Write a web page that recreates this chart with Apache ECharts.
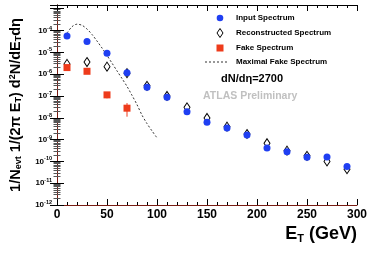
<!DOCTYPE html>
<html>
<head>
<meta charset="utf-8">
<script src="https://cdn.jsdelivr.net/npm/echarts@6/dist/echarts.min.js"></script>
<style>html,body{margin:0;padding:0;background:#fff}#c{width:374px;height:253px}</style>
</head>
<body>
<div id="c"></div>
<script>
// ---- data ----
const energies = [10, 30, 50, 70, 90, 110, 130, 150, 170, 190, 210, 230, 250, 270, 290];
const inputSpectrum = [5.6e-5, 3.1e-5, 9.1e-6, 1.17e-6, 2.5e-7, 8.7e-8, 1.9e-8, 6.2e-9, 3.4e-9, 1.6e-9, 4.1e-10, 2.8e-10, 1.55e-10, 1.58e-10, 5.8e-11];
const recoSpectrum = [2.95e-6, 3.6e-6, 2.2e-6, 1.1e-6, 2.9e-7, 1.0e-7, 3.0e-8, 9.8e-9, 3.9e-9, 1.8e-9, 6.8e-10, 3.1e-10, 1.8e-10, 1.0e-10, 4.4e-11];
const fakeEnergies = [10, 30, 50, 70];
const fakeSpectrum = [2.0e-6, 1.35e-6, 1.12e-7, 2.75e-8];
const fakeErrLow = [1.9e-6, 1.28e-6, 7.8e-8, 1.12e-8];
const fakeErrHigh = [2.1e-6, 1.42e-6, 1.4e-7, 4.7e-8];
const maxFakeEnergies = [10, 15, 20, 25, 30, 35, 40, 45, 50, 55, 60, 65, 70, 75, 80, 85, 90, 95, 100];
const maxFakeSpectrum = [7.6e-5, 1.5e-4, 1.95e-4, 1.74e-4, 1.17e-4, 6.6e-5, 3.3e-5, 1.58e-5, 7.2e-6, 3.2e-6, 1.41e-6, 6.3e-7, 2.75e-7, 1.07e-7, 4.0e-8, 1.32e-8, 5.4e-9, 2.5e-9, 1.2e-9];
const xTicks = [0, 50, 100, 150, 200, 250, 300];
const yMin = 1e-12, yMax = 1.48e-3;
const names = ['Input Spectrum', 'Reconstructed Spectrum', 'Fake Spectrum', 'Maximal Fake Spectrum'];

const FONT = '"Liberation Sans", Arial, Helvetica, sans-serif';
const BLUE = '#1f3ff2', RED = '#ee3b1b', FRAME_RED = '#7a1c12';

const zip = (xs, ys) => xs.map((x, i) => [x, ys[i]]);

const chart = echarts.init(document.getElementById('c'), null, {renderer: 'canvas'});

function yLabel(v) {
  const l = Math.log10(v);
  const e = Math.round(l);
  if (Math.abs(l - e) > 0.01 || e > -4) return '';
  return '{b|10}{s|' + e + '}';
}

const xCommon = {
  type: 'value', min: xTicks[0], max: xTicks[xTicks.length - 1], interval: 50,
  splitLine: {show: false},
  axisTick: {inside: true, length: 6, lineStyle: {color: '#000'}},
  minorTick: {show: true, splitNumber: 5, length: 3, lineStyle: {color: '#000'}}
};
const yCommon = {
  type: 'log', logBase: 10, min: yMin, max: yMax, splitNumber: 9,
  splitLine: {show: false},
  axisTick: {inside: true, length: 7, lineStyle: {color: '#000'}},
  minorTick: {show: true, splitNumber: 9, length: 3.5, lineStyle: {color: '#555'}}
};

// legend drawn as decoration
const LX = 220, LT = 236, LFONT = 'bold 8px ' + FONT;
const legendRows = [18, 33, 48, 62];
const legendGraphics = [
  {type: 'circle', shape: {cx: LX, cy: legendRows[0], r: 3.3}, style: {fill: BLUE}},
  {type: 'polygon', shape: {points: [[LX, legendRows[1] - 4.5], [LX + 3, legendRows[1]], [LX, legendRows[1] + 4.5], [LX - 3, legendRows[1]]]}, style: {fill: '#fff', stroke: '#000', lineWidth: 1}},
  {type: 'rect', shape: {x: LX - 3.5, y: legendRows[2] - 3.5, width: 7, height: 7}, style: {fill: RED}},
  {type: 'line', shape: {x1: 205, y1: legendRows[3], x2: 228, y2: legendRows[3]}, style: {stroke: '#333', lineWidth: 1, lineDash: [2, 2]}}
].concat(names.map((n, i) => ({
  type: 'text', x: LT, y: legendRows[i],
  style: {text: n, font: LFONT, fill: '#000', verticalAlign: 'middle', align: 'left'}
})));

chart.setOption({
  animation: false,
  textStyle: {fontFamily: FONT},
  grid: {left: 49, right: 17, top: 5, bottom: 48, containLabel: false},
  xAxis: [
    Object.assign({}, xCommon, {
      position: 'bottom',
      axisLine: {lineStyle: {color: FRAME_RED, width: 1}},
      axisLabel: {fontFamily: FONT, fontWeight: 'bold', fontSize: 12, color: '#000', margin: 4}
    }),
    Object.assign({}, xCommon, {
      position: 'top',
      axisLine: {lineStyle: {color: '#000', width: 1}},
      axisLabel: {show: false}
    })
  ],
  yAxis: [
    Object.assign({}, yCommon, {
      position: 'left',
      axisLine: {lineStyle: {color: '#000', width: 1}},
      axisLabel: {
        formatter: yLabel, margin: 5, color: '#000',
        rich: {
          b: {fontFamily: FONT, fontWeight: 'bold', fontSize: 8, color: '#000'},
          s: {fontFamily: FONT, fontWeight: 'bold', fontSize: 5.5, color: '#000', verticalAlign: 'bottom', padding: [0, 0, 5, 0]}
        }
      },
      name: '1/N{sub|evt} 1/(2π E{sub|T}) d{sup|2}N/dE{sub|T}dη',
      nameLocation: 'middle', nameGap: 34,
      nameTextStyle: {
        fontFamily: FONT, fontWeight: 'bold', fontSize: 14.5, color: '#000',
        rich: {
          sub: {fontFamily: FONT, fontWeight: 'bold', fontSize: 9, color: '#000', verticalAlign: 'top', padding: [6, 0, 0, 0]},
          sup: {fontFamily: FONT, fontWeight: 'bold', fontSize: 9, color: '#000', verticalAlign: 'bottom', padding: [0, 0, 6, 0]}
        }
      }
    }),
    Object.assign({}, yCommon, {
      position: 'right',
      axisLine: {lineStyle: {color: FRAME_RED, width: 1}},
      axisLabel: {show: false}
    })
  ],
  graphic: legendGraphics.concat([
    {type: 'text', left: 221, top: 73, style: {text: 'dN/dη=2700', font: 'bold 11px ' + FONT, fill: '#000'}},
    {type: 'text', left: 203, top: 91, style: {text: 'ATLAS Preliminary', font: 'bold 10.5px ' + FONT, fill: '#c0c0c0'}},
    {type: 'text', right: 17, top: 225, style: {
      text: 'E{sub|T} (GeV)', font: 'bold 18px ' + FONT, fill: '#000',
      rich: {sub: {fontFamily: FONT, fontWeight: 'bold', fontSize: 11, fill: '#000', verticalAlign: 'top', padding: [9, 0, 0, 0]}}
    }}
  ]),
  series: [
    {
      name: names[3], type: 'line', data: zip(maxFakeEnergies, maxFakeSpectrum),
      showSymbol: false, symbol: 'none', smooth: 0.3, z: 2,
      lineStyle: {color: '#333', width: 1, type: [2, 2]}, itemStyle: {color: '#333'}
    },
    {
      name: names[1], type: 'scatter', data: zip(energies, recoSpectrum), z: 3,
      symbol: 'diamond', symbolSize: [6, 9],
      itemStyle: {color: '#fff', borderColor: '#000', borderWidth: 1, opacity: 1}
    },
    {
      name: 'fakeErr', type: 'custom', z: 4,
      data: fakeEnergies.map((x, i) => [x, fakeErrLow[i], fakeErrHigh[i]]),
      renderItem: function (params, api) {
        const p1 = api.coord([api.value(0), api.value(1)]);
        const p2 = api.coord([api.value(0), api.value(2)]);
        return {type: 'line', shape: {x1: p1[0], y1: p1[1], x2: p2[0], y2: p2[1]}, style: {stroke: RED, lineWidth: 1}};
      }
    },
    {
      name: names[2], type: 'scatter', data: zip(fakeEnergies, fakeSpectrum), z: 5,
      symbol: 'rect', symbolSize: 7, itemStyle: {color: RED, opacity: 1}
    },
    {
      name: names[0], type: 'scatter', data: zip(energies, inputSpectrum), z: 6,
      symbol: 'circle', symbolSize: 7, itemStyle: {color: BLUE, opacity: 1}
    }
  ]
});
</script>
</body>
</html>
